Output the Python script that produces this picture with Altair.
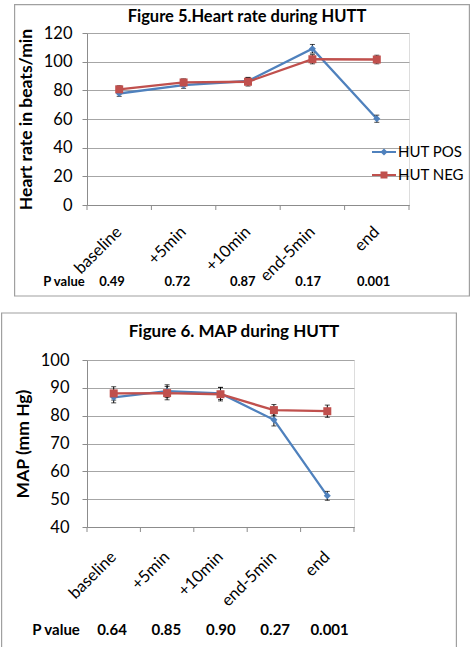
import altair as alt
import pandas as pd

stages = ["baseline", "+5min", "+10min", "end-5min", "end"]
series_names = ["HUT POS", "HUT NEG"]
series_colors = ["#4F81BD", "#C0504D"]
marker_shapes = ["diamond", "square"]

hr_pos = [77.8, 83.6, 86.5, 109.0, 60.2]
hr_pos_err = [2.0, 2.2, 2.5, 3.0, 2.5]
hr_neg = [80.7, 85.5, 86.0, 101.7, 101.5]
hr_neg_err = [2.5, 2.5, 3.0, 3.2, 3.0]
hr_p = ["0.49", "0.72", "0.87", "0.17", "0.001"]

map_pos = [86.6, 88.8, 88.0, 78.5, 51.2]
map_pos_err = [2.0, 2.3, 2.2, 2.2, 1.6]
map_neg = [88.0, 88.1, 87.7, 82.0, 81.6]
map_neg_err = [2.4, 2.4, 2.4, 2.0, 2.2]
map_p = ["0.64", "0.85", "0.90", "0.27", "0.001"]

FONT = "Lato"
GRID = "#a6a6a6"
AXIS = "#8c8c8c"

# legend glyphs: a short line with the marker in its middle (unit coords)
LEG_POS = "M-1,-0.09H1V0.09H-1Z M0,-0.3L0.3,0L0,0.3L-0.3,0Z"
LEG_NEG = "M-1,-0.09H1V0.09H-1Z M-0.29,-0.29H0.29V0.29H-0.29Z"


def panel(pos, pos_err, neg, neg_err, pvals, ydom, ystep, ytitle, title,
          W, H, box, ylab_pad, ytitle_pad, ytitle_size, xlab_pad, title_xy, title_size,
          leg_xy, leg_rowpad, p_dy, p_font, p_off, p_label_x):
    rows = []
    for name, vals, errs in [(series_names[0], pos, pos_err), (series_names[1], neg, neg_err)]:
        for s, v, e in zip(stages, vals, errs):
            rows.append({"stage": s, "series": name, "value": v, "lo": v - e, "hi": v + e})
    df = pd.DataFrame(rows)
    base = alt.Chart(df)

    xscale = alt.Scale(type="band", domain=stages, paddingInner=0, paddingOuter=0)
    xaxis = alt.Axis(ticks=False, tickSize=0, labelAngle=-45, labelAlign="right",
                     labelBaseline="middle", labelPadding=xlab_pad, labelFont=FONT,
                     labelFontSize=16.5, labelColor="black", domainColor=AXIS, grid=False)
    yticks = list(range(ydom[0], ydom[1] + 1, ystep))
    yscale = alt.Scale(domain=ydom, nice=False, zero=False)
    yaxis = alt.Axis(values=yticks, grid=True, gridColor=GRID, domainColor=AXIS,
                     tickColor=AXIS, tickSize=5, labelFont=FONT, labelFontSize=16.5,
                     labelColor="black", labelPadding=ylab_pad, titleFont=FONT,
                     titleFontSize=ytitle_size, titleFontWeight="bold", titleColor="black",
                     titlePadding=ytitle_pad)

    def X(band=None):
        if band is None:
            return alt.X("stage:N", scale=xscale, axis=xaxis, title=None)
        return alt.X("stage:N", scale=xscale, axis=xaxis, title=None, bandPosition=band)

    def Y(field):
        return alt.Y(field, scale=yscale, axis=yaxis, title=ytitle)

    cscale = alt.Scale(domain=series_names, range=series_colors)

    lines = base.mark_line(strokeWidth=2.3).encode(
        x=X(), y=Y("value:Q"),
        color=alt.Color("series:N", scale=cscale, legend=None),
    )
    err = base.mark_rule(color="black", strokeWidth=1).encode(
        x=X(), y=Y("lo:Q"), y2="hi:Q")
    cap_lo = base.mark_tick(color="black", thickness=1, size=5, orient="horizontal").encode(
        x=X(), y=Y("lo:Q"))
    cap_hi = base.mark_tick(color="black", thickness=1, size=5, orient="horizontal").encode(
        x=X(), y=Y("hi:Q"))

    pts_pos = base.transform_filter(alt.datum.series == series_names[0]).mark_point(
        filled=True, opacity=1, size=50, shape=marker_shapes[0], color=series_colors[0]).encode(
        x=X(), y=Y("value:Q"))
    pts_neg = base.transform_filter(alt.datum.series == series_names[1]).mark_point(
        filled=True, opacity=1, size=64, shape=marker_shapes[1], color=series_colors[1]).encode(
        x=X(), y=Y("value:Q"))

    legend = alt.Legend(
        orient="none", legendX=leg_xy[0], legendY=leg_xy[1], title=None,
        labelFont=FONT, labelFontSize=15, labelColor="black", labelOffset=2,
        symbolSize=576, symbolStrokeWidth=0, rowPadding=leg_rowpad, symbolOpacity=1)
    leg_layer = base.mark_point(filled=True, opacity=0, size=576).encode(
        x=X(), y=Y("value:Q"),
        color=alt.Color("series:N", scale=cscale, legend=legend),
        shape=alt.Shape("series:N", scale=alt.Scale(domain=series_names, range=[LEG_POS, LEG_NEG]),
                        legend=legend),
    )

    sdf = pd.DataFrame({"stage": stages})
    ticks_left = alt.Chart(sdf).mark_rule(color=AXIS, strokeWidth=1).encode(
        x=X(0), y=alt.value(H), y2=alt.value(H + 5))
    ticks_right = alt.Chart(sdf.tail(1)).mark_rule(color=AXIS, strokeWidth=1).encode(
        x=X(1), y=alt.value(H), y2=alt.value(H + 5))

    pdf = pd.DataFrame({"stage": stages, "p": pvals})
    ptext = alt.Chart(pdf).mark_text(font=FONT, fontSize=p_font, fontWeight="bold",
                                     color="black", baseline="middle").encode(
        x=X(),
        xOffset=alt.XOffset("stage:N", scale=alt.Scale(type="point", domain=stages,
                                                       range=p_off, padding=0)),
        y=alt.value(H + p_dy), text="p:N")
    plabel = alt.Chart(alt.Data(values=[{"t": "P value"}])).mark_text(
        font=FONT, fontSize=p_font, fontWeight="bold", color="black", baseline="middle").encode(
        x=alt.value(p_label_x), y=alt.value(H + p_dy), text="t:N")
    ttl = alt.Chart(alt.Data(values=[{"t": title}])).mark_text(
        font=FONT, fontSize=title_size, fontWeight="bold", color="black", baseline="middle").encode(
        x=alt.value(title_xy[0]), y=alt.value(title_xy[1]), text="t:N")

    border = alt.Chart(alt.Data(values=[{"b": 1}])).mark_rect(
        fillOpacity=0, stroke="#a0a0a0", strokeWidth=1.2).encode(
        x=alt.value(box[0]), x2=alt.value(box[1]), y=alt.value(box[2]), y2=alt.value(box[3]))

    layers = [border, ticks_left, ticks_right, leg_layer, lines, err, cap_lo, cap_hi,
              pts_pos, pts_neg, plabel, ptext, ttl]
    return alt.layer(*layers).properties(width=W, height=H)


c1 = panel(hr_pos, hr_pos_err, hr_neg, hr_neg_err, hr_p, [0, 120], 20,
           "Heart rate in beats/min", "Figure 5.Heart rate during HUTT",
           W=322, H=172, box=[-72.4, 382.4, -28.4, 263], ylab_pad=10, ytitle_pad=8, ytitle_size=17.5,
           xlab_pad=24, title_xy=[160, -16], title_size=16.5, leg_xy=[285, 107], leg_rowpad=3,
           p_dy=77, p_font=13, p_off=[25, 29], p_label_x=-23)

c2 = panel(map_pos, map_pos_err, map_neg, map_neg_err, map_p, [40, 100], 10,
           "MAP (mm Hg)", "Figure 6. MAP during HUTT",
           W=267, H=167, box=[-85.4, 369.4, -47, 288], ylab_pad=13, ytitle_pad=8, ytitle_size=17.5,
           xlab_pad=27, title_xy=[147, -28], title_size=17, leg_xy=[272, 110], leg_rowpad=4,
           p_dy=103, p_font=15, p_off=[31.7, 55.7], p_label_x=-31)

chart = alt.vconcat(c1, c2, spacing=13).properties(
    padding={"left": 0, "top": 3, "right": 0, "bottom": 0}
).configure_view(strokeWidth=0).configure(background="white")

chart.save("out.html", embed_options={"renderer": "svg", "actions": False})
